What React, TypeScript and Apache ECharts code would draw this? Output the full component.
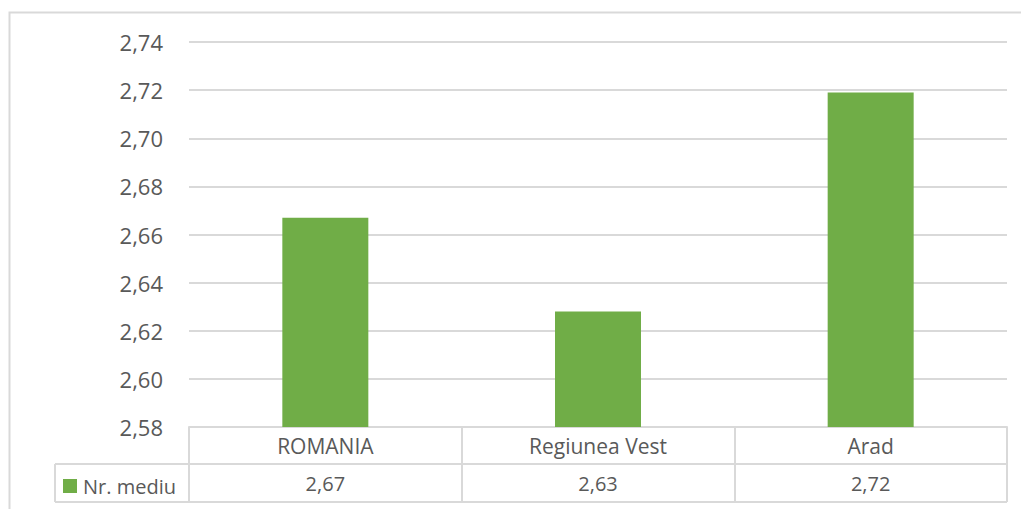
import React, { useEffect, useRef } from "react";
import * as echarts from "echarts";

const categories = ["ROMANIA", "Regiunea Vest", "Arad"];
const values = [2.667, 2.628, 2.719];
const tableLabels = ["2,67", "2,63", "2,72"];
const seriesName = "Nr. mediu";
const yMin = 2.58;
const yMax = 2.74;
const yStep = 0.02;

const TEXT = "#595959";
const LINE = "#d9d9d9";
const GREEN = "#70AD47";
const FONT = "Open Sans";

export default function App() {
  const ref = useRef<HTMLDivElement>(null);
  useEffect(() => {
    if (!ref.current) return;
    const chart = echarts.init(ref.current, null, { renderer: "svg" });
    const gl = 189, gr = 1007, plotBottom = 427;
    chart.setOption({
      animation: false,
      textStyle: { fontFamily: FONT },
      grid: { left: gl, right: 1021 - gr, top: 42, bottom: 509 - plotBottom },
      legend: {
        data: [seriesName],
        left: 63,
        top: 476,
        icon: "rect",
        itemWidth: 14,
        itemHeight: 14,
        itemGap: 0,
        padding: 0,
        textStyle: { color: TEXT, fontSize: 20, fontFamily: FONT, padding: [0, 0, 0, 1] },
        selectedMode: false,
      },
      xAxis: [
        {
          type: "category",
          data: categories,
          position: "bottom",
          axisLine: { show: true, lineStyle: { color: LINE, width: 2 } },
          axisTick: { show: true, length: 75, lineStyle: { color: LINE, width: 2 } },
          axisLabel: {
            color: TEXT,
            fontSize: 21,
            fontFamily: FONT,
            margin: 19,
            verticalAlign: "middle",
          },
          splitLine: { show: false },
        },
        {
          type: "category",
          data: tableLabels,
          position: "bottom",
          axisLine: { show: false },
          axisTick: { show: false },
          axisLabel: {
            color: TEXT,
            fontSize: 20,
            fontFamily: FONT,
            margin: 56,
            verticalAlign: "middle",
          },
        },
      ],
      yAxis: {
        type: "value",
        min: yMin,
        max: yMax,
        interval: yStep,
        axisLine: { show: false },
        axisTick: { show: false },
        axisLabel: {
          color: TEXT,
          fontSize: 22,
          fontFamily: FONT,
          margin: 26,
          formatter: (v: number) => v.toFixed(2).replace(".", ","),
        },
        splitLine: { lineStyle: { color: LINE, width: 2 } },
      },
      series: [
        {
          name: seriesName,
          type: "bar",
          data: values,
          barWidth: 86,
          itemStyle: { color: GREEN },
        },
      ],
      graphic: [
        {
          type: "rect",
          shape: { x: 9.5, y: 12.5, width: 1040, height: 520 },
          style: { fill: "none", stroke: LINE, lineWidth: 2 },
          silent: true,
        },
        {
          type: "line",
          shape: { x1: 55, y1: 464, x2: gr, y2: 464 },
          style: { stroke: LINE, lineWidth: 2 },
          silent: true,
        },
        {
          type: "line",
          shape: { x1: 55, y1: 502, x2: gr, y2: 502 },
          style: { stroke: LINE, lineWidth: 2 },
          silent: true,
        },
        {
          type: "line",
          shape: { x1: 55, y1: 464, x2: 55, y2: 502 },
          style: { stroke: LINE, lineWidth: 2 },
          silent: true,
        },
      ],
    });
    return () => chart.dispose();
  }, []);
  return (
    <div
      ref={ref}
      style={{ position: "absolute", left: 0, top: 0, width: 1021, height: 509 }}
    />
  );
}
